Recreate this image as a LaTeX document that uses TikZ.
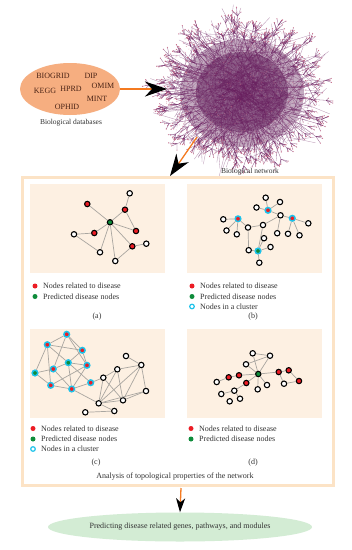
\documentclass[tikz,border=0pt]{standalone}
\usepackage{fontspec}
\setmainfont{Liberation Serif}
\usetikzlibrary{arrows.meta,shapes.geometric}
\definecolor{orangec}{HTML}{F47A20}
\definecolor{dbfill}{HTML}{F6AE80}
\definecolor{dbtext}{HTML}{4A2315}
\definecolor{framec}{HTML}{FCE3C6}
\definecolor{panelc}{HTML}{FDF0E2}
\definecolor{redc}{HTML}{EC1C24}
\definecolor{greenc}{HTML}{0E8C3A}
\definecolor{cyanc}{HTML}{1CC2EA}
\definecolor{edgec}{HTML}{A9A6A0}
\definecolor{hairc}{HTML}{6A1F60}
\definecolor{hairdk}{HTML}{561350}
\definecolor{hairdot}{HTML}{C86A86}
\definecolor{predc}{HTML}{D3ECD4}
\definecolor{txtc}{HTML}{333333}
\tikzset{
  wn/.style={circle,draw=black,fill=white,line width=1.1pt,minimum size=5.4pt,inner sep=0pt},
  rn/.style={wn,fill=redc},
  gn/.style={wn,fill=greenc},
  rcn/.style={circle,draw=cyanc,fill=redc,line width=1.5pt,minimum size=5.6pt,inner sep=0pt},
  gcn/.style={rcn,fill=greenc},
  edge/.style={draw=edgec,line width=0.7pt},
  panel/.style={fill=panelc,draw=none,minimum width=135pt,minimum height=89pt,inner sep=0pt},
  legdot/.style={circle,draw=none,minimum size=5pt,inner sep=0pt},
  legring/.style={circle,draw=cyanc,fill=white,line width=1.2pt,minimum size=4.6pt,inner sep=0pt},
  legtxt/.style={anchor=west,font=\fontsize{8}{9}\selectfont,text=txtc,inner sep=0pt},
  sublab/.style={font=\fontsize{8}{9}\selectfont,text=txtc,inner sep=0pt},
  dbname/.style={font=\fontsize{8}{9}\selectfont,text=dbtext,inner sep=0pt},
  hairl/.style={draw=hairc,line width=0.3pt,opacity=0.5},
  hairf/.style={draw=hairc,line width=0.3pt,opacity=0.7},
  bigarrow/.style={draw=orangec,line width=1.3pt,-{Stealth[length=22pt,width=15pt,inset=7pt,color=black]}},
}
\begin{document}
\begin{tikzpicture}[x=1pt,y=-1pt]
\useasboundingbox (0,0) rectangle (352,550);
\fill[white] (0,0) rectangle (352,550);

% ---------------- biological network hairball ----------------
\pgfmathsetseed{11}
\fill[hairdk,opacity=0.35] (242,93) ellipse [x radius=62pt, y radius=54pt];
\fill[hairdk,opacity=0.45] (242,92) ellipse [x radius=46pt, y radius=40pt];
\foreach \i in {1,...,1100}{
  \pgfmathsetmacro\aa{360*rnd}
  \pgfmathsetmacro\rr{72*(rnd)^0.75}
  \pgfmathsetmacro\bb{360*rnd}
  \pgfmathsetmacro\ll{5+26*rnd}
  \draw[hairl] ({242+\rr*cos(\aa)},{92+0.88*\rr*sin(\aa)}) -- ++({\ll*cos(\bb)},{0.9*\ll*sin(\bb)});
}
\foreach \i in {1,...,350}{
  \pgfmathsetmacro\aa{360*rnd}
  \pgfmathsetmacro\rr{55*sqrt(rnd)}
  \pgfmathsetmacro\bb{360*rnd}
  \pgfmathsetmacro\rs{55*sqrt(rnd)}
  \draw[hairl,opacity=0.3] ({242+\rr*cos(\aa)},{92+0.88*\rr*sin(\aa)}) -- ({242+\rs*cos(\bb)},{92+0.88*\rs*sin(\bb)});
}
\foreach \i in {1,...,170}{
  \pgfmathsetmacro\aa{360*rnd}
  \pgfmathsetmacro\ra{38+18*rnd}
  \pgfmathsetmacro\rb{\ra+12+26*rnd}
  \pgfmathsetmacro\ab{\aa+(rnd-0.5)*20}
  \draw[hairf] ({242+\ra*cos(\aa)},{92+0.86*\ra*sin(\aa)}) -- ({242+\rb*cos(\ab)},{92+0.86*\rb*sin(\ab)}) coordinate (hb);
  \foreach \k in {1,...,5}{
    \pgfmathsetmacro\cc{\ab+(rnd-0.5)*100}
    \pgfmathsetmacro\ln{3+6*rnd}
    \draw[hairf] (hb) -- ++({\ln*cos(\cc)},{\ln*sin(\cc)}) coordinate (ht);
    \fill[hairdot] (ht) circle[radius=0.55pt];
  }
}
\foreach \i in {1,...,400}{
  \pgfmathsetmacro\aa{360*rnd}
  \pgfmathsetmacro\rr{80*sqrt(rnd)}
  \fill[hairdot,opacity=0.6] ({242+\rr*cos(\aa)},{92+0.88*\rr*sin(\aa)}) circle[radius=0.45pt];
}
\coordinate (netL) at (167,89);
\coordinate (netB) at (197,137);
\node[font=\fontsize{7.5}{9}\selectfont,text=txtc,inner sep=0pt] (netlab) at (250,172) {Biological network};

% ---------------- databases ----------------
\node[ellipse,fill=dbfill,draw=none,minimum width=100pt,minimum height=52pt] (db) at (70,89) {};
\node[dbname] (n1) at (53,76) {BIOGRID};
\node[dbname] (n2) at (91,76) {DIP};
\node[dbname] (n3) at (103,86) {OMIM};
\node[dbname] (n4) at (45,91) {KEGG};
\node[dbname] (n5) at (71,89) {HPRD};
\node[dbname] (n6) at (97,99) {MINT};
\node[dbname] (n7) at (67,107) {OPHID};
\node[font=\fontsize{7.5}{9}\selectfont,text=txtc,inner sep=0pt] (dblab) at (71,123) {Biological databases};

\draw[bigarrow] (db.east) -- (netL);

% ---------------- frame ----------------
\node[draw=framec,fill=white,line width=3pt,minimum width=311pt,minimum height=308pt,inner sep=0pt] (frame) at (177.5,331) {};
\coordinate (ftop) at (170,176);
\draw[bigarrow] (netB) -- (ftop);

\node[panel] (pa) at (97.5,228.5) {};
\node[panel] (pb) at (254.5,228.5) {};
\node[panel] (pc) at (97.5,373) {};
\node[panel] (pd) at (254.5,373) {};

% ---------------- panel a ----------------
\node[gn] (aG) at (110,222.3) {};
\node[rn] (aR1) at (87.3,204) {};
\node[rn] (aR2) at (125,209.7) {};
\node[wn] (aW1) at (129.7,193.3) {};
\node[rn] (aR3) at (136,231) {};
\node[wn] (aW2) at (74,234.3) {};
\node[rn] (aR4) at (94.3,233) {};
\node[rn] (aR5) at (132.3,246.3) {};
\node[wn] (aW3) at (146.3,243.7) {};
\node[wn] (aW4) at (100,252.3) {};
\node[wn] (aW5) at (115.3,261) {};
\foreach \u/\v in {aR1/aG,aG/aR2,aR2/aW1,aR2/aR3,aG/aR3,aG/aR4,aR4/aW2,aW2/aW4,aG/aW4,aG/aW5,aG/aR5,aR5/aW3,aR5/aW5}
  \draw[edge] (\u) -- (\v);

% ---------------- panel b ----------------
\node[wn] (bW1) at (265.7,197.7) {};
\node[wn] (bW2) at (280,202) {};
\node[wn] (bW3) at (256.5,207.5) {};
\node[rcn] (bR1) at (268,210.3) {};
\node[wn] (bW4) at (280.5,215.3) {};
\node[rcn] (bR2) at (292.3,218.3) {};
\node[wn] (bW5) at (308.3,223.3) {};
\node[wn] (bW6) at (223.3,219.3) {};
\node[rcn] (bR3) at (238,218.8) {};
\node[wn] (bW7) at (226.5,230.5) {};
\node[wn] (bW8) at (236.8,234.3) {};
\node[wn] (bW9) at (248,227.5) {};
\node[wn] (bW10) at (263,225) {};
\node[wn] (bW11) at (277.2,233.2) {};
\node[wn] (bW12) at (288,233.8) {};
\node[wn] (bW13) at (299.5,235.3) {};
\node[wn] (bW14) at (264,238.2) {};
\node[wn] (bW15) at (270.5,247) {};
\node[wn] (bW16) at (248.7,250.2) {};
\node[gcn] (bG) at (258,251) {};
\node[wn] (bW17) at (259.3,262.7) {};
\foreach \u/\v in {bR1/bW1,bR1/bW2,bR1/bW3,bR1/bW4,bW4/bR2,bW4/bW10,bW4/bW11,bR2/bW5,bR2/bW12,bR2/bW13,bR3/bW6,bR3/bW7,bR3/bW8,bR3/bW9,bW9/bW10,bW9/bW16,bW10/bG,bG/bW16,bG/bW15,bG/bW17,bG/bW14}
  \draw[edge] (\u) -- (\v);

% ---------------- panel c ----------------
\node[rcn] (cA) at (66.7,334.3) {};
\node[rcn] (cB) at (47.3,344.7) {};
\node[rcn] (cC) at (82.3,350.3) {};
\node[gcn] (cD) at (68.3,362.7) {};
\node[rcn] (cE) at (87,365.3) {};
\node[rcn] (cF) at (53.3,369) {};
\node[gcn] (cG) at (35,373) {};
\node[rcn] (cH) at (50.7,385.3) {};
\node[rcn] (cI) at (71.7,389) {};
\node[rcn] (cJ) at (90.7,382.7) {};
\node[wn] (cW1) at (103.3,377.7) {};
\node[wn] (cW2) at (117.3,369.3) {};
\node[wn] (cW3) at (126,356) {};
\node[wn] (cW4) at (141.3,365) {};
\node[wn] (cW5) at (146,391) {};
\node[wn] (cW6) at (123,400.3) {};
\node[wn] (cW7) at (98.7,403.3) {};
\node[wn] (cW8) at (114.3,411) {};
\node[wn] (cW9) at (85.3,412.3) {};
\foreach \u/\v in {cA/cB,cA/cC,cA/cF,cA/cE,cB/cC,cB/cD,cB/cG,cB/cH,cC/cD,cC/cE,cD/cE,cD/cF,cD/cI,cD/cJ,cE/cH,cE/cI,cF/cG,cF/cI,cG/cH,cH/cI,cI/cJ,cJ/cW1,cI/cW7,cW1/cW7,cW1/cW6,cW2/cW4,cW2/cW6,cW2/cW7,cW3/cW4,cW4/cW5,cW4/cW6,cW4/cW7,cW5/cW6,cW5/cW7,cW6/cW7,cW7/cW8,cW8/cW9,cW1/cW2}
  \draw[edge] (\u) -- (\v);

% ---------------- panel d ----------------
\node[gn] (dG) at (258.3,374) {};
\node[wn] (dW1) at (252.7,353.3) {};
\node[wn] (dW2) at (270,355.7) {};
\node[wn] (dW3) at (246,364.3) {};
\node[rn] (dR1) at (239,375.3) {};
\node[rn] (dR2) at (228.7,377.3) {};
\node[wn] (dW4) at (216.7,382) {};
\node[rn] (dR3) at (246.3,383) {};
\node[wn] (dW5) at (234.3,390.7) {};
\node[wn] (dW6) at (221.3,394) {};
\node[wn] (dW7) at (240,398.7) {};
\node[wn] (dW8) at (229.7,401.3) {};
\node[wn] (dW9) at (257.7,389.3) {};
\node[wn] (dW10) at (267,385) {};
\node[rn] (dR4) at (278.7,372) {};
\node[rn] (dR5) at (288.7,370.3) {};
\node[wn] (dW11) at (284,383.7) {};
\node[rn] (dR6) at (299,381) {};
\foreach \u/\v in {dG/dW1,dG/dW2,dW1/dW2,dW3/dW2,dG/dW3,dG/dR1,dR1/dR2,dR2/dW4,dG/dR3,dR3/dW5,dW5/dW6,dW5/dW7,dG/dW9,dG/dW10,dG/dR4,dR4/dR5,dR4/dW11,dW11/dR6,dR5/dR6}
  \draw[edge] (\u) -- (\v);

% ---------------- legends ----------------
\node[legdot,fill=redc] (laR) at (35,286) {};
\node[legtxt] (laRt) at (43,286) {Nodes related to disease};
\node[legdot,fill=greenc] (laG) at (35,296.5) {};
\node[legtxt] (laGt) at (43,296.5) {Predicted disease nodes};
\node[sublab] (la) at (97,317) {(a)};

\node[legdot,fill=redc] (lbR) at (192,286) {};
\node[legtxt] (lbRt) at (200,286) {Nodes related to disease};
\node[legdot,fill=greenc] (lbG) at (192,296.5) {};
\node[legtxt] (lbGt) at (200,296.5) {Predicted disease nodes};
\node[legring] (lbC) at (192,306.5) {};
\node[legtxt] (lbCt) at (200,306.5) {Nodes in a cluster};
\node[sublab] (lb) at (253,317) {(b)};

\node[legdot,fill=redc] (lcR) at (33,428.5) {};
\node[legtxt] (lcRt) at (41,428.5) {Nodes related to disease};
\node[legdot,fill=greenc] (lcG) at (33,439) {};
\node[legtxt] (lcGt) at (41,439) {Predicted disease nodes};
\node[legring] (lcC) at (33,449) {};
\node[legtxt] (lcCt) at (41,449) {Nodes in a cluster};
\node[sublab] (lc) at (96,463) {(c)};

\node[legdot,fill=redc] (ldR) at (191,428.5) {};
\node[legtxt] (ldRt) at (199,428.5) {Nodes related to disease};
\node[legdot,fill=greenc] (ldG) at (191,439) {};
\node[legtxt] (ldGt) at (199,439) {Predicted disease nodes};
\node[sublab] (ld) at (253,463) {(d)};

\node[sublab] (atp) at (175,477) {Analysis of topological properties of the network};

% ---------------- prediction ----------------
\node[ellipse,fill=predc,draw=none,minimum width=264pt,minimum height=29pt,inner sep=0pt] (pred) at (180,527) {};
\node[sublab] (predt) at (180,527) {Predicting disease related genes, pathways, and modules};
\coordinate (fbot) at (181,488);
\draw[draw=orangec,line width=1.3pt,-{Stealth[length=14pt,width=9pt,inset=4pt,color=black]}] (fbot) -- (pred.north);
\end{tikzpicture}
\end{document}
